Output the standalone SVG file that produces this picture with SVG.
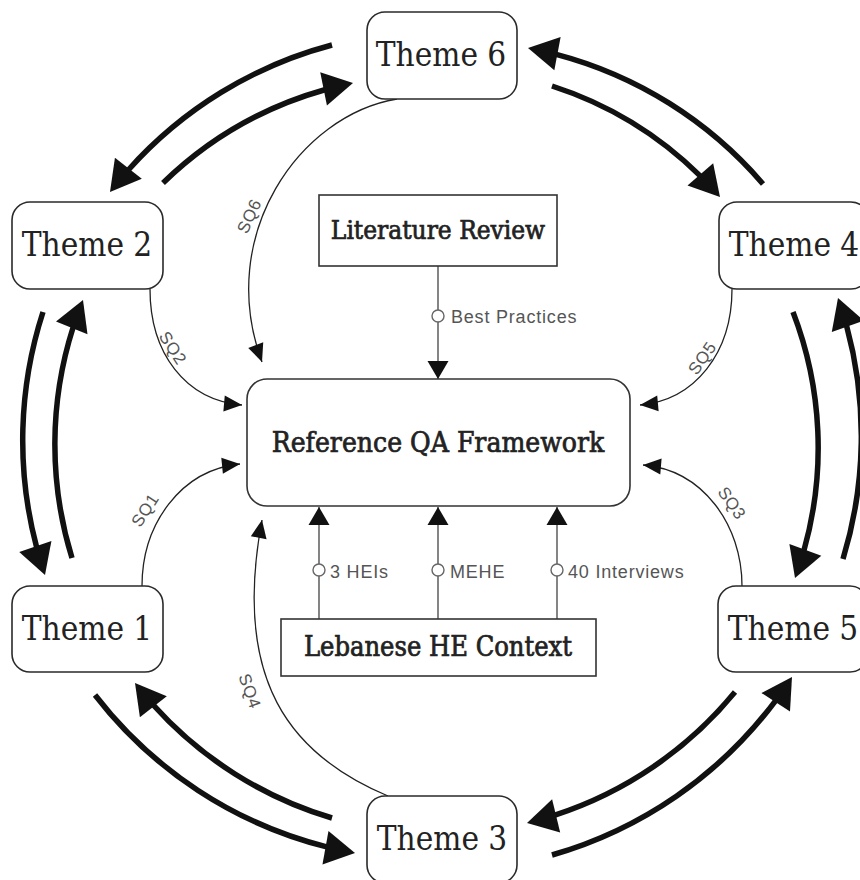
<svg xmlns="http://www.w3.org/2000/svg" width="860" height="880" viewBox="0 0 860 880">
  <style>
    .theme rect { fill: #fff; stroke: #2a2a2a; stroke-width: 1.6; }
    .box rect { fill: #fff; stroke: #333; stroke-width: 1.6; }
    .serif { font-family: "DejaVu Serif Condensed", "DejaVu Serif", "Liberation Serif", serif; font-stretch: condensed; fill: #222; text-anchor: middle; }
    .t-theme { font-size: 33px; }
    .t-box { font-size: 26px; stroke: #222; stroke-width: 0.7px; }
    .t-ctx { font-size: 27px; stroke: #222; stroke-width: 0.7px; }
    .t-main { font-size: 28px; stroke: #222; stroke-width: 0.7px; }
    .lbl { font-family: "Liberation Sans", Arial, sans-serif; font-size: 18px; fill: #555; letter-spacing: 0.8px; }
    .sq { font-family: "Liberation Sans", Arial, sans-serif; font-size: 17px; fill: #555; text-anchor: middle; letter-spacing: 0.5px; }
    .thick { fill: none; stroke: #111; stroke-width: 5.5; marker-end: url(#bigHead); }
    .thin { fill: none; stroke: #222; stroke-width: 1.3; marker-end: url(#smallHead); }
    .feed { fill: none; stroke: #666; stroke-width: 1.6; marker-end: url(#feedHead); }
    .dot { fill: #fff; stroke: #666; stroke-width: 1.4; }
  </style>
  <defs>
    <marker id="bigHead" markerUnits="userSpaceOnUse" markerWidth="32" markerHeight="36" refX="30" refY="17" orient="auto" overflow="visible">
      <path d="M0,0 L30,17 L0,34 Z" fill="#111"/>
    </marker>
    <marker id="smallHead" markerUnits="userSpaceOnUse" markerWidth="20" markerHeight="18" refX="18" refY="8" orient="auto" overflow="visible">
      <path d="M0,0 L18,8 L0,16 Z" fill="#111"/>
    </marker>
    <marker id="feedHead" markerUnits="userSpaceOnUse" markerWidth="20" markerHeight="22" refX="18" refY="10.5" orient="auto" overflow="visible">
      <path d="M0,0 L18,10.5 L0,21 Z" fill="#111"/>
    </marker>
  </defs>

  <rect width="860" height="880" fill="#fff"/>

  <!-- connectors -->
  <g id="connectors">
    <!-- outer ring: paired thick arrows between neighbouring themes -->
    <path class="thick" d="M332,45 A415,415 0 0 0 110,192" pathLength="271" stroke-dasharray="242 1000"/>
    <path class="thick" d="M163,183 A380,380 0 0 1 353,83" pathLength="218" stroke-dasharray="189 1000"/>
    <path class="thick" d="M763,184 A410,410 0 0 0 528,48" pathLength="277" stroke-dasharray="248 1000"/>
    <path class="thick" d="M552,86 A375,375 0 0 1 720,197" pathLength="204" stroke-dasharray="175 1000"/>
    <path class="thick" d="M43,312 A417,417 0 0 0 45,575" pathLength="268" stroke-dasharray="239 1000"/>
    <path class="thick" d="M72,558 A385,385 0 0 1 83,300" pathLength="263" stroke-dasharray="234 1000"/>
    <path class="thick" d="M332,818 A389,389 0 0 1 135,683" pathLength="243" stroke-dasharray="214 1000"/>
    <path class="thick" d="M95,695 A423,423 0 0 0 355,853" pathLength="311" stroke-dasharray="282 1000"/>
    <path class="thick" d="M735,692 A388,388 0 0 1 527,823" pathLength="250" stroke-dasharray="221 1000"/>
    <path class="thick" d="M552,855 A425,425 0 0 0 792,677" pathLength="305" stroke-dasharray="276 1000"/>
    <path class="thick" d="M793,312 A378,378 0 0 1 795,578" pathLength="272" stroke-dasharray="243 1000"/>
    <path class="thick" d="M843,559 A421,421 0 0 0 838,298" pathLength="265" stroke-dasharray="236 1000"/>

    <!-- sub-question links into the framework -->
    <path class="thin" d="M397,99 C300,115 215,235 262,362"/>
    <path class="thin" d="M150,289 C150,353 185,400 242,405"/>
    <path class="thin" d="M142,586 C142,525 180,470 240,464"/>
    <path class="thin" d="M388,796 C290,755 232,680 262,520"/>
    <path class="thin" d="M742,586 C742,525 703,470 643,465"/>
    <path class="thin" d="M732,289 C732,353 695,400 640,405"/>

    <!-- inputs from literature and context -->
    <path class="feed" d="M438,266 L438,379"/>
    <path class="feed" d="M319,619 L319,507"/>
    <path class="feed" d="M438,619 L438,507"/>
    <path class="feed" d="M557,619 L557,507"/>
    <circle class="dot" cx="438" cy="316" r="6"/>
    <circle class="dot" cx="319" cy="570" r="6"/>
    <circle class="dot" cx="438" cy="570" r="6"/>
    <circle class="dot" cx="557" cy="570" r="6"/>

    <text class="lbl" x="451" y="323">Best Practices</text>
    <text class="lbl" x="330" y="578">3 HEIs</text>
    <text class="lbl" x="450" y="578">MEHE</text>
    <text class="lbl" x="568" y="578">40 Interviews</text>

    <text class="sq" transform="translate(249,216) rotate(-65)" y="6">SQ6</text>
    <text class="sq" transform="translate(173,348) rotate(57)" y="6">SQ2</text>
    <text class="sq" transform="translate(145,510) rotate(-57)" y="6">SQ1</text>
    <text class="sq" transform="translate(250,691) rotate(70)" y="6">SQ4</text>
    <text class="sq" transform="translate(732,503) rotate(55)" y="6">SQ3</text>
    <text class="sq" transform="translate(702,358) rotate(-55)" y="6">SQ5</text>
  </g>

  <!-- nodes -->
  <g id="theme6" class="theme"><rect x="367" y="12" width="150" height="87" rx="18"/><text class="serif t-theme" x="441" y="66">Theme 6</text></g>
  <g id="theme2" class="theme"><rect x="12" y="202" width="151" height="87" rx="18"/><text class="serif t-theme" x="87" y="256">Theme 2</text></g>
  <g id="theme4" class="theme"><rect x="719" y="202" width="150" height="87" rx="18"/><text class="serif t-theme" x="794" y="256">Theme 4</text></g>
  <g id="theme1" class="theme"><rect x="12" y="586" width="151" height="86" rx="18"/><text class="serif t-theme" x="87" y="640">Theme 1</text></g>
  <g id="theme5" class="theme"><rect x="718" y="586" width="150" height="86" rx="18"/><text class="serif t-theme" x="793" y="640">Theme 5</text></g>
  <g id="theme3" class="theme"><rect x="367" y="796" width="150" height="87" rx="18"/><text class="serif t-theme" x="442" y="850">Theme 3</text></g>

  <g id="literature" class="box"><rect x="319" y="195" width="238" height="71"/><text class="serif t-box" x="438" y="239">Literature Review</text></g>
  <g id="framework" class="box"><rect x="247" y="379" width="383" height="127" rx="20"/><text class="serif t-main" x="438" y="452">Reference QA Framework</text></g>
  <g id="context" class="box"><rect x="281" y="619" width="315" height="57"/><text class="serif t-ctx" x="438" y="656">Lebanese HE Context</text></g>
</svg>
